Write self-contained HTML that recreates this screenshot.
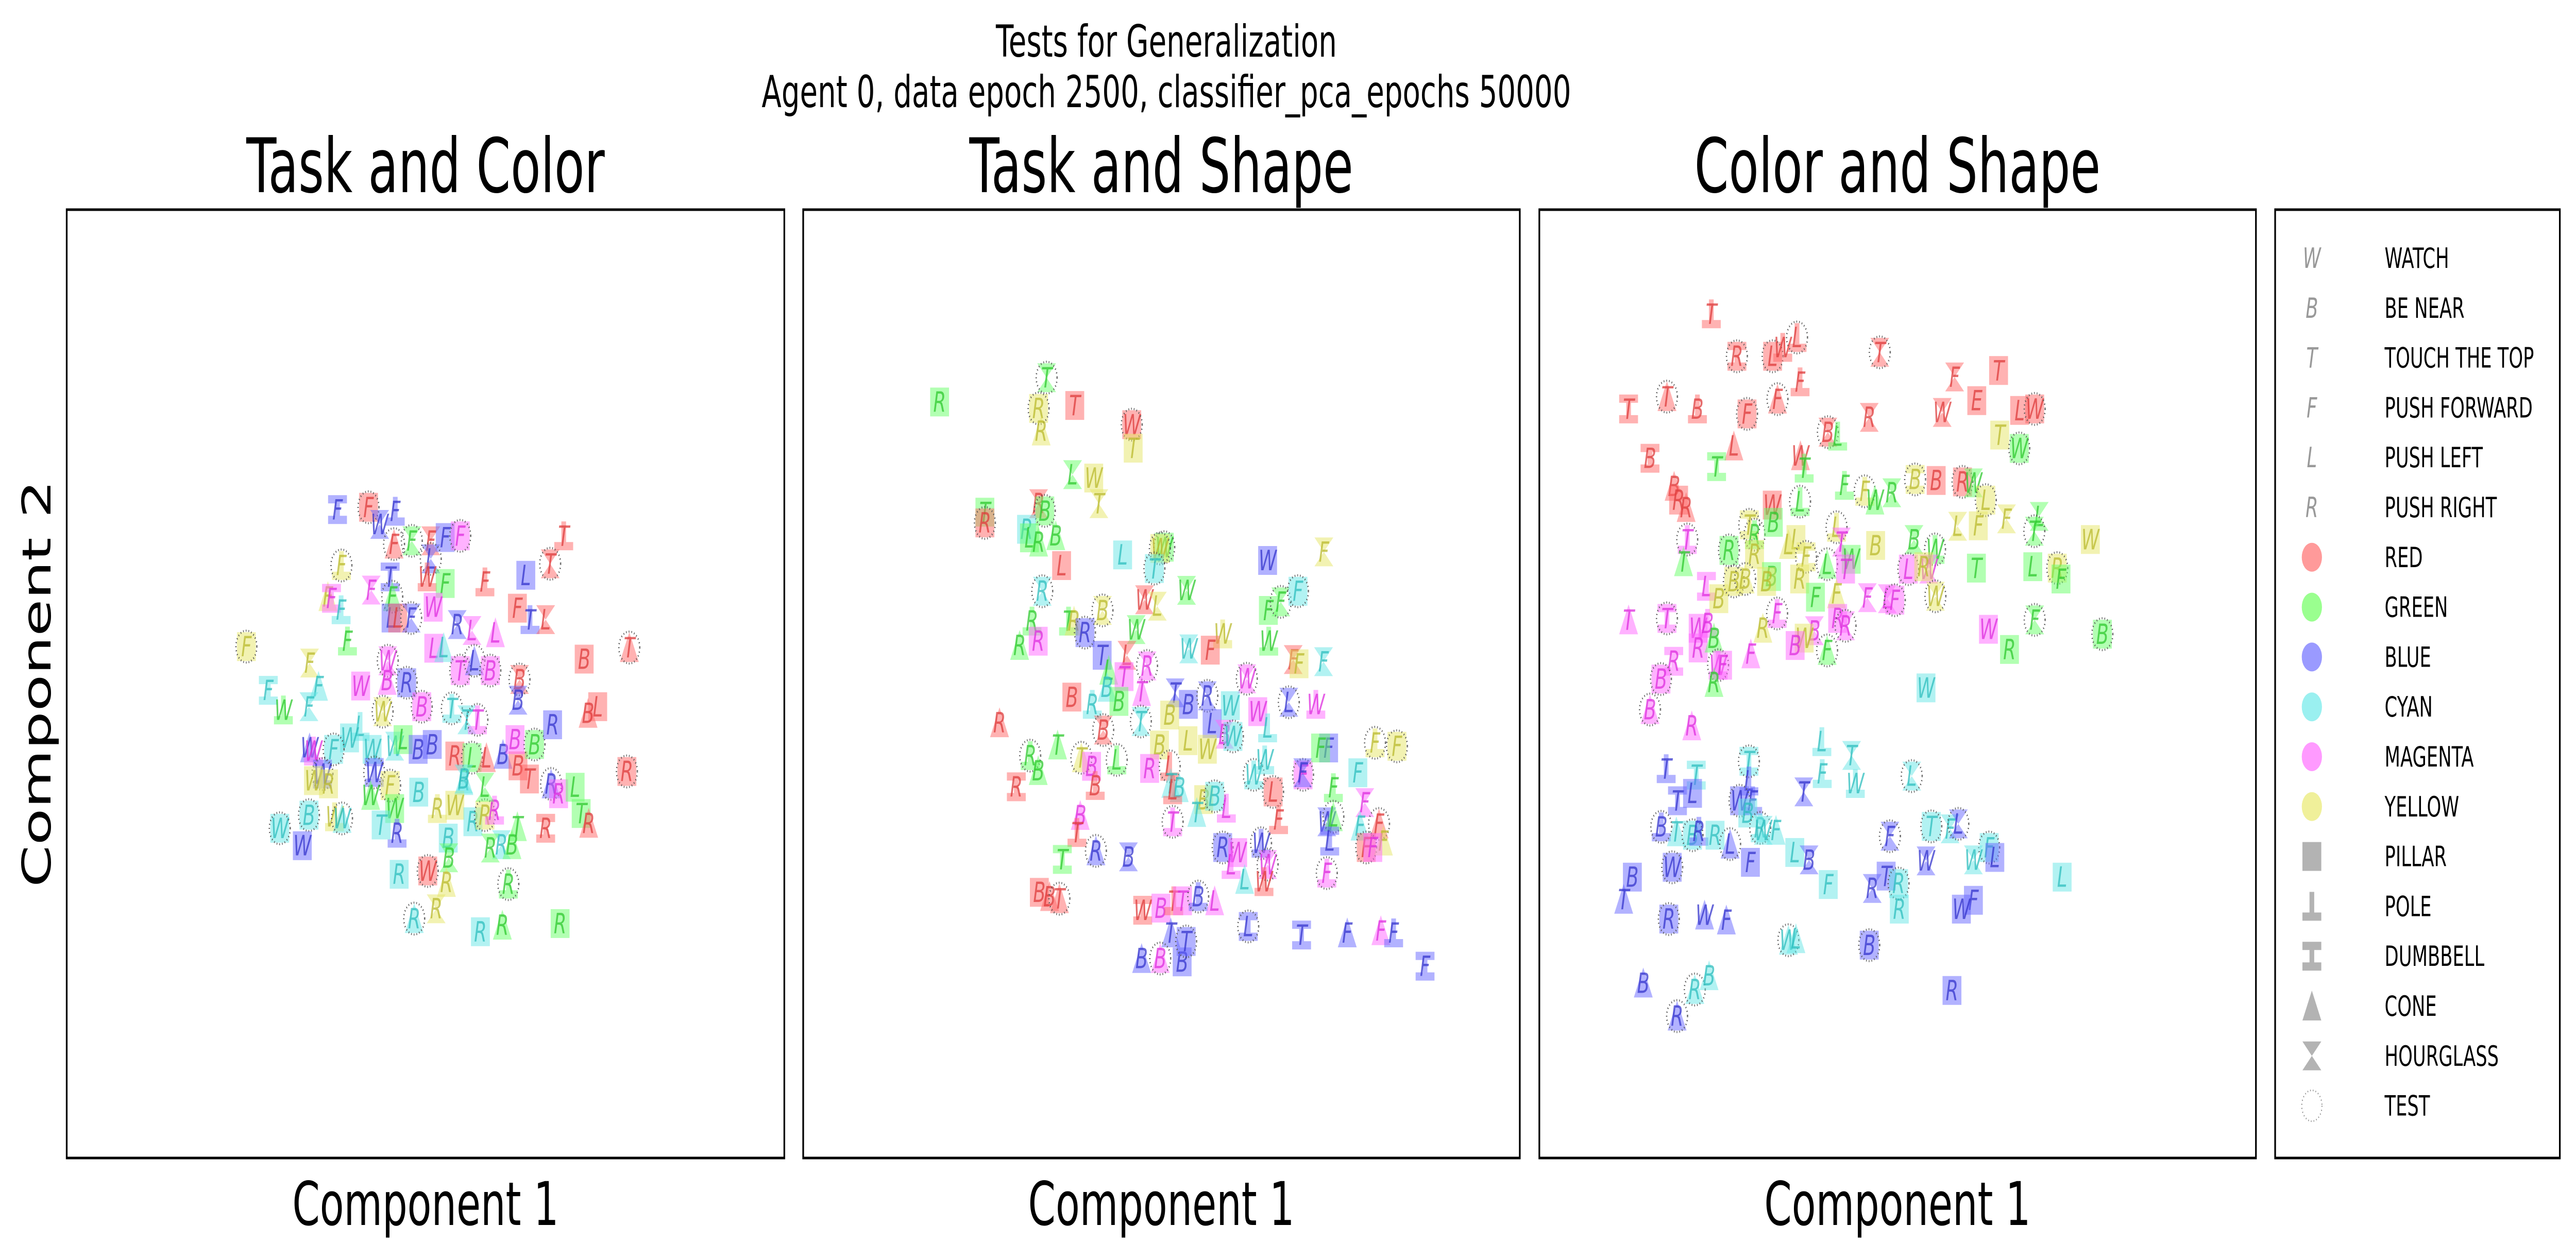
<!DOCTYPE html>
<html><head><meta charset="utf-8"><title>Tests for Generalization</title>
<meta name="viewport" content="width=7646, initial-scale=1">
<style>
html,body{margin:0;padding:0;background:#fff;width:100vw;height:100vh;overflow:hidden;}
svg{display:block;width:100vw;height:100vh;font-family:"DejaVu Sans","Liberation Sans",sans-serif;}
</style></head>
<body>
<svg id="chart" xmlns="http://www.w3.org/2000/svg" viewBox="0 0 7646 2446" preserveAspectRatio="none">
<rect x="0" y="0" width="7646" height="2446" fill="#fff"/>
<text x="3462" y="110" font-size="86" text-anchor="middle">Tests for Generalization</text>
<text x="3462" y="208" font-size="86" text-anchor="middle">Agent 0, data epoch 2500, classifier_pca_epochs 50000</text>
<text x="1263" y="373" font-size="146" text-anchor="middle">Task and Color</text>
<text x="3447" y="373" font-size="146" text-anchor="middle">Task and Shape</text>
<text x="5632" y="373" font-size="146" text-anchor="middle">Color and Shape</text>
<text x="1263" y="2378" font-size="117" text-anchor="middle">Component 1</text>
<text x="3447" y="2378" font-size="117" text-anchor="middle">Component 1</text>
<text x="5632" y="2378" font-size="117" text-anchor="middle">Component 1</text>
<text x="0" y="0" font-size="117" text-anchor="middle" transform="translate(150,1327) rotate(-90)">Component 2</text>
<g id="plots"></g>
<rect x="198" y="407" width="2130" height="1841" fill="none" stroke="#000" stroke-width="5"/>
<rect x="2384" y="407" width="2127" height="1841" fill="none" stroke="#000" stroke-width="5"/>
<rect x="4569" y="407" width="2127" height="1841" fill="none" stroke="#000" stroke-width="5"/>
<rect x="6753" y="407" width="845" height="1841" fill="#fff" stroke="#000" stroke-width="5"/>
<g id="legend"></g>
</svg>
<script>
// ---- Panel 1: Task and Color ----
const p1x=[450,553,590,642,638,697,760,808,858,760,748,808,463,418,430,462,625,562,632,628,650,695,768,940,1076,1202,1157,1048,1090,1142,848,897,975,770,803,147,483,357,387,220,270,355,617,527,680,615,858,905,958,1055,1050,1270,1420,1315,1283,600,730,830,880,915,525,490,357,370,437,565,640,668,718,765,840,870,897,945,1000,1050,1040,1105,1165,1088,1160,1185,1240,1412,1260,1285,1142,400,370,420,572,560,625,640,595,648,720,840,782,900,940,972,1048,995,1030,958,258,355,440,465,333,818,820,655,750,812,1018,778,705,925,998,1190,940,870];
const p1y=[140,133,185,145,245,235,235,225,220,290,345,365,310,405,410,445,345,385,405,470,470,470,437,360,340,220,305,440,475,475,490,508,515,562,560,557,540,607,678,690,750,740,600,677,667,660,630,600,630,657,720,595,560,740,760,755,740,745,780,780,800,835,865,875,870,870,860,840,870,855,890,965,895,895,885,920,840,855,795,960,975,1005,985,937,1065,1095,1110,945,965,975,940,1010,980,1050,1100,1125,1000,1040,1050,1090,1070,1055,1105,1160,1160,1170,1110,1070,1075,1080,1163,1140,1200,1250,1240,1275,1280,1355,1385,1425,1405,1400,985,960];
const p1task="FFWFFFFFFLWFFFFFTFFLLFWFLTTFTLRLLLLFFFFFWFWWRBTLBBBBTLBWBTTTLWWWFWWLBBRRLLBBBBRTRRLRTRRWWRWWFWTRBWRRRRTRBRWBWWWBBRWRRRRRRRLB";
const p1color="brbbrgrbmbrgyymcbmgbrbmrbrrrbrbmmmcygyccgcmmbmmbmrbrrrrymccmccbmcccgbbrcgrbrmgbrbmgrgrrbyybgygcbcyycymgcggccycbcgcrygyccgggc";
const p1shape="DPHOCHHPPHOPOCDODHCPPHPOPOHPOHHHCPCPOHCDOHHPPCPCPHHPCPCHPOHOOPCOPPHPPPPCPCCPPPPPCPPPPCDDPPDCPPPOPPOPPOCHCHPPOCPPHPPCOHCPCPHH";
const p1test="0100110011001000001001000010000000010000001010111100100111010000100000001000010010010001001010000000100000110100001010100000";
// ---- Panel 2: Task and Shape ----
const p2x=[375,82,353,360,452,608,612,446,504,518,353,370,206,206,320,328,353,400,416,583,697,685,670,980,1134,363,643,678,758,528,982,1016,1063,335,435,450,480,620,301,352,527,595,857,764,823,983,1050,1066,1133,545,587,650,540,573,635,444,500,727,763,815,923,878,953,1038,1112,712,828,862,885,980,762,815,633,530,246,330,352,405,470,498,567,508,684,657,292,712,715,738,720,805,835,867,786,942,972,995,1077,1076,1147,1125,1274,1334,1227,1160,1010,1246,1233,1285,1250,1297,1268,1142,1160,1150,1142,467,458,418,510,599,720,857,898,880,917,962,980,970,355,383,410,638,688,723,747,790,835,715,927,1073,1198,1290,1325,1411,635,686,746,757];
const p2y=[40,97,112,165,105,150,205,267,275,335,335,352,355,380,395,415,425,410,480,455,437,440,487,468,448,540,560,575,538,585,585,565,540,610,610,610,637,630,667,657,690,690,640,675,678,657,700,710,705,725,740,715,765,798,775,788,805,778,805,785,745,808,822,800,805,830,850,875,880,860,890,910,845,865,848,925,960,900,930,950,935,995,900,955,998,950,990,1000,1005,1028,1020,1048,1058,970,935,1010,970,965,907,907,895,903,965,1000,1075,1035,1090,1085,1140,1125,1140,1080,1068,1125,1200,1065,1105,1168,1148,1162,1080,1140,1152,1180,1215,1130,1180,1220,1245,1255,1260,1287,1282,1265,1265,1255,1265,1340,1325,1345,1340,1335,1340,1418,1400,1400,1408,1360];
const p2task="TRRRTWTLWTRBTRRLRBLLWWTWFRWLWBFFFRTRRWRRTLWWFWFFFLTRBBTBRTBRWWWLWBLBWLLWTBRRBTTBLBBRRLTBLBBLTWWLFFFFFFFFFFFFFFFWLLFBTTRBTRWLLWWWBBTWBTTBLTLTFFFFBBBT";
const p2color="ggyyrrygyyrggrcgggrcgycbycrygyggcggybggmbrycrgrycgmmcgmrcbbbmcmbmybmccyycrrgggymgrymrrccrycmcccrmbbgyycgrmcrrymbgbmmrgbbmbmmcbmrrrrrmrmbmbbbbmbbbmbb";
const p2shape="HPPCPPPHPHHPPPPPCCPPPPPPHHHHHHPHPOOCPHCPPHOHPOHPHCPHCPCPOHPHHPPHOPPHPOPPHHCOCCCPOOPPDOCCOPPOCOOPPHPPOPPOOHCCPCPHCDOCODCHOPPOCOHOPCCDPOPOCCDDCCODCCPP";
const p2test="1010010000010100000011100100010110001000000000000001000000011001000010001101001010000100001001011000110000011000101000101100011000100001001000000101";
// ---- Panel 3: Color and Shape ----
const p3x=[340,408,503,530,568,788,120,222,303,435,516,576,760,987,954,1104,1046,1160,1200,177,400,577,354,241,253,273,650,676,587,1107,1159,502,576,694,748,775,820,882,938,1008,1037,1070,441,455,505,565,545,673,686,777,879,935,995,1050,1125,1212,1199,1348,276,266,387,455,592,648,712,697,864,918,905,936,1045,1195,1260,1270,327,360,400,430,500,487,575,617,673,755,808,828,120,222,305,330,305,347,515,477,614,587,563,648,676,697,445,1077,1133,1200,1380,240,358,370,206,347,177,288,911,634,713,635,723,873,220,300,440,440,250,290,415,450,586,437,207,247,290,307,350,390,470,512,478,444,562,600,651,815,925,975,997,911,1079,1037,1094,805,838,768,840,1273,1037,1005,130,107,236,227,322,380,545,565,760,159,296,334,249,980];
const p3y=[62,148,148,130,110,140,255,230,255,265,235,200,272,190,262,177,238,258,255,355,330,350,372,412,440,455,302,310,375,308,335,450,443,410,422,440,425,398,400,403,405,440,490,510,485,520,530,495,525,532,520,540,493,492,478,473,503,520,520,565,542,550,555,570,560,580,580,580,575,635,578,575,578,600,615,640,605,600,595,605,600,637,630,638,640,643,683,680,700,690,740,720,670,700,705,720,735,745,680,695,752,702,743,683,712,767,775,775,803,810,865,898,821,930,958,995,1015,1000,985,998,970,1010,1050,1035,1050,1050,1032,1075,1103,1113,1120,1112,1120,1138,1105,1110,1110,1175,1155,1170,1220,1122,1102,1107,1097,1172,1145,1170,1165,1203,1218,1228,1270,1205,1252,1270,1205,1250,1185,1290,1282,1292,1333,1330,1343,1420,1433,1405,1487,1435];
const p3task="TRLWLTTTBFFFRFWTELWBLWTBRRBLTTWWLFFWRBBRWLTRBLLLTBBWLFFLTWTTRRFLWTLWRWTLRFLBBBBBRFFFLFTTWBRBFRBWBFRRFWRFBRWFBRBRWLTFWLTTTLTLWFTBBTBRRLRFWFLBFFTFLWFWLTRRRLFWBTWRWFWLBBRBRR";
const p3color="rrrrrrrrrrrrrrrrrrrrrrgrrrrggygrggyggyrrgyyggyyymyggyyyggymggyyggmmmyyggygmyyygyygymmmmmmmmgmymymgmmmmgggmmmmgmmccccccbccbbbbbbcbccbcbcccbcbcbccbbccbbcbccbbbbbbbbccbbccbb";
const p3shape="ODPOOHDCOPCOHHHPPPPDCCDCPCHOOPPPOOOCHDPPHPDOPPCOHPHOHPHHHPOCPPDCPPPHPHPPPPDPPCPPPPCHHPCDPOPCOCHPPCPHCPPHPDOPPCCCPOHOOHODDODPPOHPOCPOPCOCHPPHPHPHHHPHPPPHPPPPPCPPCCCCPCCCCP";
const p3test="01101101011000000010000000100010101001010111000100010000101010110010010010001100000001010000100001010001101010100000010010001000101001100000011010100010000000110010101010";

const legendTasks=["WATCH","BE NEAR","TOUCH THE TOP","PUSH FORWARD","PUSH LEFT","PUSH RIGHT"];
const legendTaskLetters=["W","B","T","F","L","R"];
const legendColors=["RED","GREEN","BLUE","CYAN","MAGENTA","YELLOW"];
const legendShapes=["PILLAR","POLE","DUMBBELL","CONE","HOURGLASS"];

const FILL={r:"#ff6666",g:"#66ff66",b:"#6666ff",c:"#66e6e6",m:"#ff66ff",y:"#e6e666"};
const INK={r:"#dd3b3b",g:"#2ec82e",b:"#3434cc",c:"#2ebdbd",m:"#dd2edd",y:"#baba2e"};
const LEGFILL={r:"#ff9a9a",g:"#9aff8f",b:"#9a9aff",c:"#9af0f0",m:"#ff9aff",y:"#f0f09a"};
const PATHS={
 P:"M-28,-28H28V28H-28Z",
 O:"M-7,-28H7V12H28V28H-28V12H-7Z",
 D:"M-28,-28H28V-12H7V12H28V28H-28V12H-7V-12H-28Z",
 C:"M0,-30L28,28H-28Z",
 H:"M-28,-28H28L0,0L28,28H-28L0,0Z"
};
const SHAPENAME={P:"pillar",O:"pole",D:"dumbbell",C:"cone",H:"hourglass"};
const NS="http://www.w3.org/2000/svg";
function mk(tag,attrs){const e=document.createElementNS(NS,tag);for(const k in attrs)e.setAttribute(k,attrs[k]);return e;}

function makeScale(z0,span){return v=>z0+v*span/1568;}
const panels=[
 {x:p1x,y:p1y,t:p1task,c:p1color,s:p1shape,k:p1test,xs:makeScale(600,1400),ys:makeScale(900,1000),name:"panel1"},
 {x:p2x,y:p2y,t:p2task,c:p2color,s:p2shape,k:p2test,xs:makeScale(2700,1700),ys:makeScale(700,1300),name:"panel2"},
 {x:p3x,y:p3y,t:p3task,c:p3color,s:p3shape,k:p3test,xs:makeScale(4700,1750),ys:makeScale(550,1500),name:"panel3"}
];
const plots=document.getElementById("plots");
panels.forEach(p=>{
 const g=mk("g",{});
 
 
 plots.appendChild(g);
 for(let i=0;i<p.x.length;i++){
  const cx=p.xs(p.x[i]), cy=p.ys(p.y[i]);
  const col=p.c[i], sh=p.s[i];
  const pt=mk("g",{transform:"translate("+cx.toFixed(1)+","+cy.toFixed(1)+")"});
  
  
  const shape=mk("path",{d:PATHS[sh],fill:FILL[col],"fill-opacity":"0.5"});
  
  
  pt.appendChild(shape);
  const tx=mk("text",{x:0,y:19,"font-size":"54","font-style":"italic","text-anchor":"middle",fill:INK[col],"fill-opacity":"0.75"});
  tx.textContent=p.t[i];
  
  
  pt.appendChild(tx);
  if(p.k[i]==="1"){
   const ci=mk("circle",{cx:0,cy:0,r:31,fill:"none",stroke:"#555","stroke-width":"4","stroke-dasharray":"2 6"});
   
   
   pt.appendChild(ci);
  }
  g.appendChild(pt);
 }
});

// legend
const leg=document.getElementById("legend");
const LX=6862, TX=7078, LY0=501, LDY=96.8;
let row=0;
function legRow(label){
 const g=mk("g",{});
 
 
 const y=LY0+row*LDY;
 const t=mk("text",{x:TX,y:y+19,"font-size":"54",fill:"#000"});
 t.textContent=label;
 
 
 g.appendChild(t);
 leg.appendChild(g);
 row++;
 return {g:g,y:y};
}
legendTasks.forEach((lab,i)=>{
 const r=legRow(lab);
 const m=mk("text",{x:LX,y:r.y+19,"font-size":"54","font-style":"italic","text-anchor":"middle",fill:"#999"});
 m.textContent=legendTaskLetters[i];
 
 
 r.g.appendChild(m);
});
const colKeys=["r","g","b","c","m","y"];
legendColors.forEach((lab,i)=>{
 const r=legRow(lab);
 const m=mk("ellipse",{cx:LX,cy:r.y,rx:30,ry:28,fill:LEGFILL[colKeys[i]]});
 
 
 r.g.appendChild(m);
});
const shKeys=["P","O","D","C","H"];
legendShapes.forEach((lab,i)=>{
 const r=legRow(lab);
 const m=mk("path",{d:PATHS[shKeys[i]],fill:"#b3b3b3",transform:"translate("+LX+","+r.y+")"});
 
 
 r.g.appendChild(m);
});
(function(){
 const r=legRow("TEST");
 const m=mk("circle",{cx:LX,cy:r.y,r:30,fill:"none",stroke:"#888","stroke-width":"3","stroke-dasharray":"2 6"});
 
 
 r.g.appendChild(m);
})();
</script>
</body></html>
